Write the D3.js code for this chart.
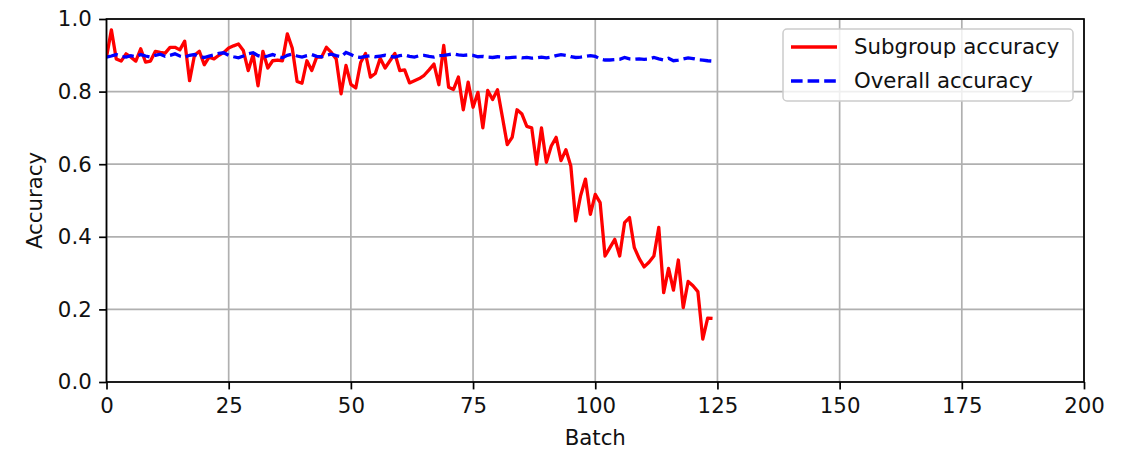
<!DOCTYPE html>
<html>
<head>
<meta charset="utf-8">
<script src="https://cdn.jsdelivr.net/npm/d3@7"></script>
<style>
  html, body { margin: 0; padding: 0; background: #fff; }
  svg { display: block; font-family: "DejaVu Sans", sans-serif; }
</style>
</head>
<body>
<svg id="chart" width="1128" height="455"></svg>
<script>
const subgroupAccuracy = [
  0.895, 0.97, 0.89, 0.884, 0.904, 0.895, 0.884, 0.918, 0.881, 0.884,
  0.911, 0.908, 0.906, 0.922, 0.922, 0.915, 0.939, 0.83, 0.9, 0.911,
  0.874, 0.895, 0.89, 0.9, 0.908, 0.92, 0.926, 0.931, 0.913, 0.858,
  0.902, 0.816, 0.911, 0.865, 0.885, 0.887, 0.885, 0.959, 0.92, 0.828,
  0.823, 0.885, 0.858, 0.895, 0.895, 0.922, 0.908, 0.89, 0.794, 0.872,
  0.82, 0.81, 0.88, 0.905, 0.84, 0.85, 0.892, 0.865, 0.885, 0.905,
  0.858, 0.86, 0.824, 0.83, 0.836, 0.845, 0.86, 0.876, 0.819, 0.927,
  0.812, 0.806, 0.84, 0.75, 0.826, 0.757, 0.798, 0.7, 0.803, 0.778,
  0.805, 0.73, 0.654, 0.674, 0.75, 0.738, 0.704, 0.7, 0.6, 0.7,
  0.605, 0.65, 0.674, 0.61, 0.64, 0.595, 0.444, 0.513, 0.559, 0.462,
  0.517, 0.494, 0.347, 0.37, 0.393, 0.347, 0.439, 0.453, 0.37, 0.34,
  0.317, 0.33, 0.347, 0.426, 0.246, 0.313, 0.253, 0.336, 0.205, 0.277,
  0.265, 0.249, 0.118, 0.176, 0.175
];
const overallAccuracy = [
  0.895, 0.898, 0.902, 0.897, 0.895, 0.899, 0.896, 0.902, 0.898, 0.895,
  0.9, 0.903, 0.897, 0.9, 0.904, 0.898, 0.895, 0.9, 0.902, 0.896,
  0.894, 0.898, 0.901, 0.905, 0.907, 0.9, 0.896, 0.893, 0.898, 0.904,
  0.907, 0.899, 0.895, 0.898, 0.902, 0.897, 0.893, 0.9, 0.903, 0.898,
  0.895, 0.899, 0.902, 0.897, 0.896, 0.9, 0.903, 0.899, 0.896, 0.908,
  0.902, 0.896, 0.894, 0.897, 0.899, 0.896, 0.898, 0.9, 0.897, 0.895,
  0.899, 0.901, 0.897, 0.895, 0.899, 0.9, 0.897, 0.895, 0.899, 0.9,
  0.902, 0.904, 0.901, 0.9, 0.901, 0.9, 0.896, 0.897, 0.895, 0.894,
  0.896, 0.895, 0.893, 0.894, 0.895, 0.893, 0.894, 0.892, 0.893, 0.895,
  0.893, 0.895, 0.899, 0.902, 0.9, 0.896, 0.894, 0.895, 0.897, 0.899,
  0.897, 0.89, 0.887, 0.887, 0.888, 0.889, 0.894, 0.89, 0.889, 0.89,
  0.889, 0.89, 0.894, 0.89, 0.887, 0.892, 0.885, 0.887, 0.89, 0.893,
  0.891, 0.888, 0.887, 0.885, 0.884
];
const xTicks = [0, 25, 50, 75, 100, 125, 150, 175, 200];
const yTicks = [0.0, 0.2, 0.4, 0.6, 0.8, 1.0];
const seriesNames = ["Subgroup accuracy", "Overall accuracy"];
const xLabel = "Batch";
const yLabel = "Accuracy";

const svg = d3.select("#chart");
const L = 106.5, R = 1084, T = 19, B = 382;
const FS = 21.3;
const TXT = "#111";

const x = d3.scaleLinear().domain([0, 200]).range([L, R]);
const y = d3.scaleLinear().domain([0, 1]).range([B, T]);

// grid
const grid = svg.append("g");
grid.selectAll("line.gx").data(xTicks).join("line")
  .attr("x1", d => x(d)).attr("x2", d => x(d)).attr("y1", T).attr("y2", B)
  .attr("stroke", "#b0b0b0").attr("stroke-width", 1.7);
grid.selectAll("line.gy").data(yTicks).join("line")
  .attr("x1", L).attr("x2", R).attr("y1", d => y(d)).attr("y2", d => y(d))
  .attr("stroke", "#b0b0b0").attr("stroke-width", 1.7);

// lines
svg.append("clipPath").attr("id", "clip").append("rect")
  .attr("x", L).attr("y", T).attr("width", R - L).attr("height", B - T);
const lineGen = d3.line().x((d, i) => x(i)).y(d => y(d));
const plot = svg.append("g").attr("clip-path", "url(#clip)");
plot.append("path").datum(subgroupAccuracy).attr("d", lineGen)
  .attr("fill", "none").attr("stroke", "#ff0000").attr("stroke-width", 3.3)
  .attr("stroke-linejoin", "round").attr("stroke-linecap", "butt");
plot.append("path").datum(overallAccuracy).attr("d", lineGen)
  .attr("fill", "none").attr("stroke", "#0000ff").attr("stroke-width", 3.3)
  .attr("stroke-dasharray", "11.6,5");

// axes
const xAxis = d3.axisBottom(x).tickValues(xTicks).tickFormat(d3.format("d"))
  .tickSize(7.4).tickPadding(7.4);
const yAxis = d3.axisLeft(y).tickValues(yTicks).tickFormat(d3.format(".1f"))
  .tickSize(7.4).tickPadding(7.4);
const gx = svg.append("g").attr("transform", `translate(0,${B})`).call(xAxis);
const gy = svg.append("g").attr("transform", `translate(${L},0)`).call(yAxis);
[gx, gy].forEach(g => {
  g.select(".domain").remove();
  g.selectAll(".tick line").attr("stroke", "#000").attr("stroke-width", 1.7);
  g.selectAll(".tick text").attr("fill", TXT).style("font-size", FS + "px")
    .style("font-family", "DejaVu Sans");
});
gx.selectAll(".tick text").attr("dy", "0.75em");

// frame
svg.append("rect").attr("x", L).attr("y", T).attr("width", R - L).attr("height", B - T)
  .attr("fill", "none").attr("stroke", "#000").attr("stroke-width", 1.7);

// axis labels
svg.append("text").attr("x", (L + R) / 2).attr("y", 445)
  .attr("text-anchor", "middle").style("font-size", FS + "px").attr("fill", TXT)
  .text(xLabel);
svg.append("text").attr("transform", `translate(42,${(T + B) / 2}) rotate(-90)`)
  .attr("text-anchor", "middle").style("font-size", FS + "px").attr("fill", TXT)
  .text(yLabel);

// legend
const lg = svg.append("g");
lg.append("rect").attr("x", 783).attr("y", 29).attr("width", 290).attr("height", 72)
  .attr("rx", 4).attr("fill", "#fff").attr("fill-opacity", 0.8)
  .attr("stroke", "#cccccc").attr("stroke-width", 1.5);
const legendItems = [
  { name: seriesNames[0], color: "#ff0000", dash: null, y: 47 },
  { name: seriesNames[1], color: "#0000ff", dash: "11.6,5", y: 81 }
];
legendItems.forEach(it => {
  lg.append("line").attr("x1", 791).attr("x2", 837).attr("y1", it.y).attr("y2", it.y)
    .attr("stroke", it.color).attr("stroke-width", 3.3)
    .attr("stroke-dasharray", it.dash);
  lg.append("text").attr("x", 854).attr("y", it.y).attr("dy", "0.35em")
    .style("font-size", FS + "px").attr("fill", TXT).text(it.name);
});
</script>
</body>
</html>
